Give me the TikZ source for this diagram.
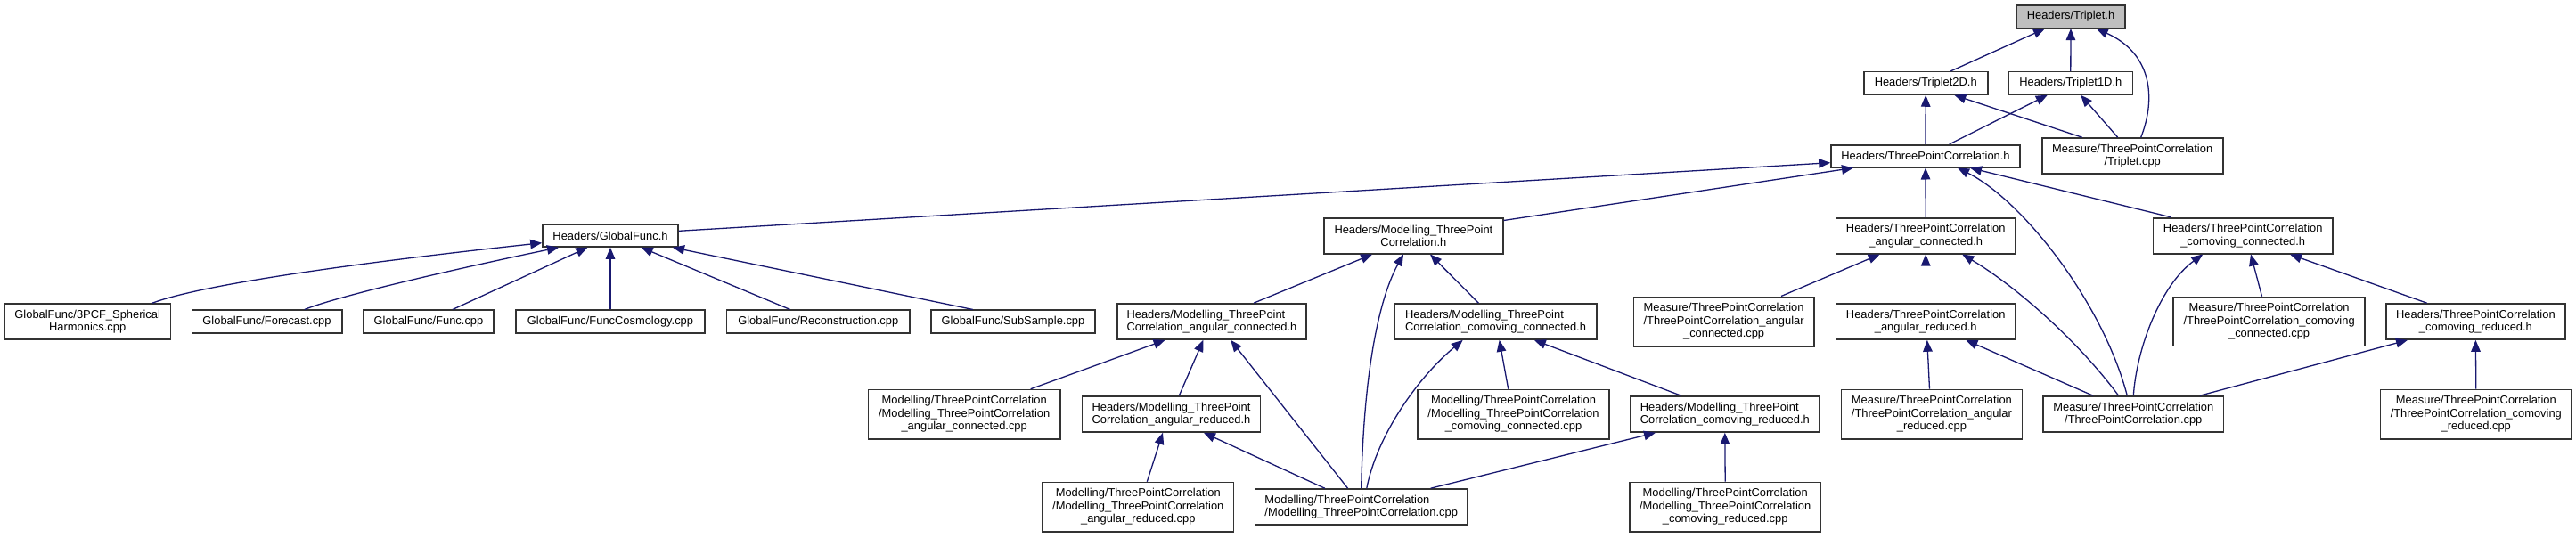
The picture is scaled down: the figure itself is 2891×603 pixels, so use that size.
\documentclass[tikz,border=0pt]{standalone}
\usepackage{fontspec}
\setmainfont{Liberation Sans}
\usetikzlibrary{arrows.meta,calc}
\definecolor{edgeblue}{HTML}{191970}
\definecolor{rootgray}{HTML}{BFBFBF}
\newcommand{\lblfont}{\fontsize{12.9pt}{14.5pt}\selectfont}
\begin{document}
\begin{tikzpicture}[x=1pt,y=-1pt,
  box/.style={draw=black!80, line width=1.6pt, fill=white, inner sep=0pt, font=\lblfont, align=center},
  lbox/.style={box, align=left},
  sz/.style 2 args={minimum width=#1pt, minimum height=#2pt},
  dep/.style={draw=edgeblue, line width=1.3pt, -{Triangle[length=13pt,width=10.5pt]}}]
\fill[white] (0,0) rectangle (2891,603);
\useasboundingbox (0,0) rectangle (2891,603);

% ---- nodes ----
\node[box, sz={122}{25.6}, fill=rootgray] (trip) at (2324,18.5) {Headers/Triplet.h};
\node[box, sz={139}{25.3}] (t2d) at (2161.2,93.3) {Headers/Triplet2D.h};
\node[box, sz={139}{25.3}] (t1d) at (2323.8,93.3) {Headers/Triplet1D.h};
\node[box, sz={212}{25}] (tpc) at (2161,175.2) {Headers/ThreePointCorrelation.h};
\node[box, sz={203}{40}] (tripcpp) at (2393.2,175) {Measure/ThreePointCorrelation\\/Triplet.cpp};
\node[box, sz={152}{25}] (gf) at (685,264.5) {Headers/GlobalFunc.h};
\node[box, sz={200.7}{40}] (mtpc) at (1586.4,264.7) {Headers/Modelling\_ThreePoint\\Correlation.h};
\node[box, sz={201.7}{40}] (tac) at (2161.2,264.7) {Headers/ThreePointCorrelation\\\_angular\_connected.h};
\node[box, sz={201.3}{40}] (tcc) at (2517.2,264.7) {Headers/ThreePointCorrelation\\\_comoving\_connected.h};

\node[box, sz={186.3}{40}] (gfsph) at (98.2,361) {GlobalFunc/3PCF\_Spherical\\Harmonics.cpp};
\node[box, sz={168.4}{25.5}] (gffore) at (299.5,361) {GlobalFunc/Forecast.cpp};
\node[box, sz={146}{25.5}] (gffunc) at (481,361) {GlobalFunc/Func.cpp};
\node[box, sz={212}{25.5}] (gfcosmo) at (685,361) {GlobalFunc/FuncCosmology.cpp};
\node[box, sz={205.5}{25.5}] (gfrecon) at (918.3,361) {GlobalFunc/Reconstruction.cpp};
\node[box, sz={184}{25.5}] (gfsub) at (1137,361) {GlobalFunc/SubSample.cpp};
\node[lbox, sz={212.3}{40}] (mach) at (1359.9,361) {Headers/Modelling\_ThreePoint\\Correlation\_angular\_connected.h};
\node[lbox, sz={227}{40}] (mcch) at (1678.5,361) {Headers/Modelling\_ThreePoint\\Correlation\_comoving\_connected.h};
\node[box, sz={202.2}{55.4}] (measaccpp) at (1934.6,361) {Measure/ThreePointCorrelation\\/ThreePointCorrelation\_angular\\\_connected.cpp};
\node[box, sz={201.5}{40}] (tarh) at (2161.2,361) {Headers/ThreePointCorrelation\\\_angular\_reduced.h};
\node[box, sz={214.7}{55}] (meascccpp) at (2546.6,361) {Measure/ThreePointCorrelation\\/ThreePointCorrelation\_comoving\\\_connected.cpp};
\node[box, sz={201.3}{40}] (tcrh) at (2778.4,361) {Headers/ThreePointCorrelation\\\_comoving\_reduced.h};

\node[box, sz={215.5}{55.2}] (maccpp) at (1082.2,465.1) {Modelling/ThreePointCorrelation\\/Modelling\_ThreePointCorrelation\\\_angular\_connected.cpp};
\node[lbox, sz={200}{40}] (marh) at (1314.5,465) {Headers/Modelling\_ThreePoint\\Correlation\_angular\_reduced.h};
\node[box, sz={214.6}{55.2}] (mcccpp) at (1698.5,465.1) {Modelling/ThreePointCorrelation\\/Modelling\_ThreePointCorrelation\\\_comoving\_connected.cpp};
\node[lbox, sz={212.5}{40}] (mcrh) at (1935.8,465) {Headers/Modelling\_ThreePoint\\Correlation\_comoving\_reduced.h};
\node[box, sz={203}{55.2}] (measarcpp) at (2167.9,465.1) {Measure/ThreePointCorrelation\\/ThreePointCorrelation\_angular\\\_reduced.cpp};
\node[box, sz={202.7}{40}] (meastpccpp) at (2394.3,465) {Measure/ThreePointCorrelation\\/ThreePointCorrelation.cpp};
\node[box, sz={214.7}{55.2}] (meascrcpp) at (2778.8,465.1) {Measure/ThreePointCorrelation\\/ThreePointCorrelation\_comoving\\\_reduced.cpp};

\node[box, sz={214.7}{55.2}] (marcpp) at (1277.3,569.1) {Modelling/ThreePointCorrelation\\/Modelling\_ThreePointCorrelation\\\_angular\_reduced.cpp};
\node[lbox, sz={238.5}{40}] (mtpccpp) at (1527.7,569) {Modelling/ThreePointCorrelation\\/Modelling\_ThreePointCorrelation.cpp};
\node[box, sz={214.4}{55.2}] (mcrcpp) at (1936.2,569.1) {Modelling/ThreePointCorrelation\\/Modelling\_ThreePointCorrelation\\\_comoving\_reduced.cpp};

% ---- edges (tip at the included file) ----
\draw[dep] ($(t2d.north)+(28.1,0)$) -- ($(trip.south)+(-29,0)$);
\draw[dep] (t1d.north) -- (trip.south);
\draw[dep] ($(tripcpp.north)+(9.5,0)$) .. controls (2420,110) and (2415,60) .. ($(trip.south)+(28.7,0)$);
\draw[dep] (tpc.north) -- (t2d.south);
\draw[dep] ($(tpc.north)+(26.7,0)$) -- ($(t1d.south)+(-26,0)$);
\draw[dep] ($(tripcpp.north)+(-56.5,0)$) -- ($(t2d.south)+(32.1,0)$);
\draw[dep] ($(tripcpp.north)+(-16.5,0)$) -- ($(t1d.south)+(11.4,0)$);

\draw[dep] ($(gf.east)+(0,-5.2)$) -- ($(tpc.west)+(0,7.5)$);
\draw[dep] ($(mtpc.north east)+(0,3.6)$) -- ($(tpc.south)+(-81,0)$);
\draw[dep] (tac.north) -- (tpc.south);
\draw[dep] ($(meastpccpp.north)+(-7,0)$) .. controls (2360,340) and (2270,225) .. ($(tpc.south)+(36,0)$);
\draw[dep] ($(tcc.north)+(-80.5,0)$) -- ($(tpc.south)+(50,0)$);

\draw[dep] ($(gfsph.north)+(72.8,0)$) .. controls (230,318) and (420,293) .. ($(gf.west)+(0,8.2)$);
\draw[dep] ($(gffore.north)+(42.3,0)$) .. controls (380,332) and (520,300) .. ($(gf.south)+(-58,0)$);
\draw[dep] ($(gffunc.north)+(27,0)$) -- ($(gf.south)+(-25.6,0)$);
\draw[dep] (gfcosmo.north) -- (gf.south);
\draw[dep] ($(gfrecon.north)+(-31.6,0)$) -- ($(gf.south)+(34.6,0)$);
\draw[dep] ($(gfsub.north)+(-45.3,0)$) -- ($(gf.south)+(70,0)$);

\draw[dep] ($(mach.north)+(47.1,0)$) -- ($(mtpc.south)+(-46.2,0)$);
\draw[dep] (mtpccpp.north) .. controls (1530,430) and (1545,340) .. ($(mtpc.south)+(-11.4,0)$);
\draw[dep] ($(mcch.north)+(-19.2,0)$) -- ($(mtpc.south)+(18.6,0)$);

\draw[dep] ($(maccpp.north)+(74.5,0)$) -- ($(mach.south)+(-52.3,0)$);
\draw[dep] ($(marh.north)+(8.8,0)$) -- ($(mach.south)+(-9.5,0)$);
\draw[dep] ($(mtpccpp.north)+(-15.1,0)$) -- ($(mach.south)+(21.3,0)$);

\draw[dep] ($(mtpccpp.north)+(6.1,0)$) .. controls (1545,490) and (1590,425) .. ($(mcch.south)+(-36.8,0)$);
\draw[dep] ($(mcccpp.north)+(-5.8,0)$) -- ($(mcch.south)+(4.2,0)$);
\draw[dep] ($(mcrh.north)+(-49.1,0)$) -- ($(mcch.south)+(43.3,0)$);

\draw[dep] ($(marcpp.north)+(10,0)$) -- ($(marh.south)+(-9.5,0)$);
\draw[dep] ($(mtpccpp.north)+(-40.9,0)$) -- ($(marh.south)+(36.4,0)$);

\draw[dep] ($(mtpccpp.north)+(77.9,0)$) -- ($(mcrh.south)+(-77.8,0)$);
\draw[dep] (mcrcpp.north) -- (mcrh.south);

\draw[dep] ($(measaccpp.north)+(64.4,0)$) -- ($(tac.south)+(-51.5,0)$);
\draw[dep] (tarh.north) -- (tac.south);
\draw[dep] ($(meastpccpp.north)+(-16.7,0)$) .. controls (2330,380) and (2260,320) .. ($(tac.south)+(41,0)$);

\draw[dep] ($(measarcpp.north)+(-2.4,0)$) -- ($(tarh.south)+(1.6,0)$);
\draw[dep] ($(meastpccpp.north)+(-45.3,0)$) -- ($(tarh.south)+(45.1,0)$);

\draw[dep] (meastpccpp.north) .. controls (2398,390) and (2425,320) .. ($(tcc.south)+(-45,0)$);
\draw[dep] ($(meascccpp.north)+(-8.1,0)$) -- ($(tcc.south)+(8.8,0)$);
\draw[dep] ($(tcrh.north)+(-54.8,0)$) -- ($(tcc.south)+(52.8,0)$);

\draw[dep] ($(meastpccpp.north)+(74.5,0)$) -- ($(tcrh.south)+(-76.4,0)$);
\draw[dep] (meascrcpp.north) -- (tcrh.south);
\end{tikzpicture}
\end{document}
